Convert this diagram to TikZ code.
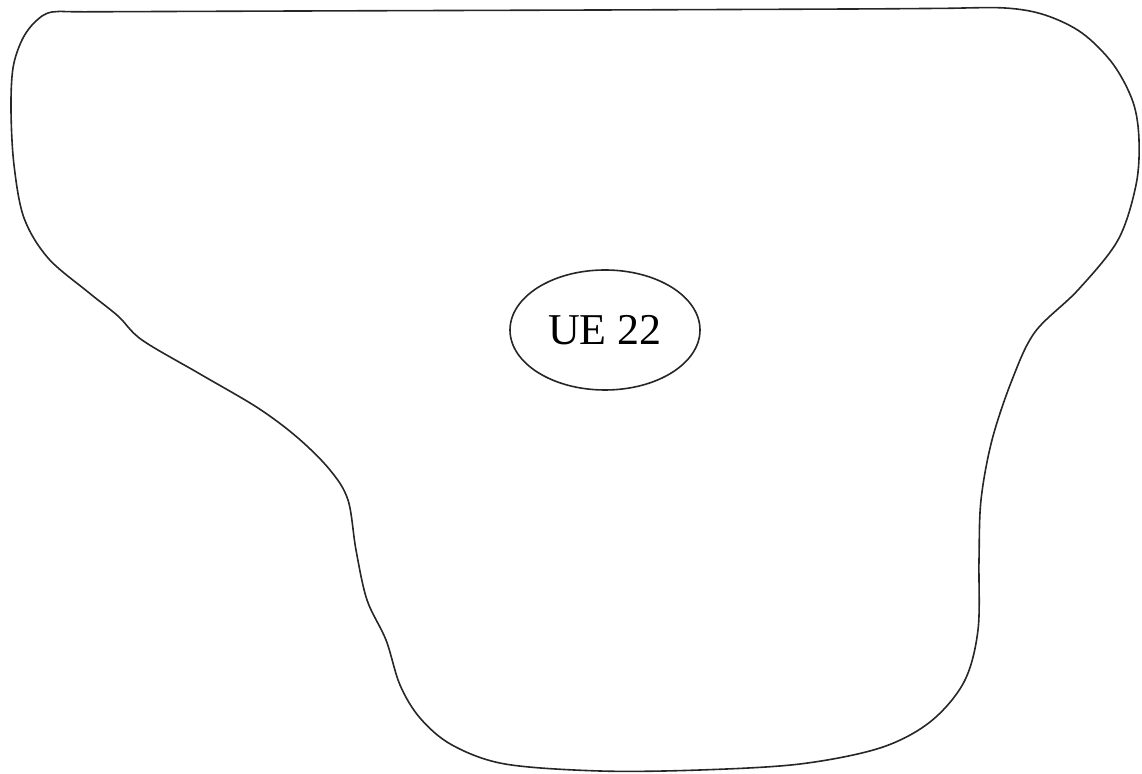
\documentclass[tikz,border=0pt]{standalone}
\usepackage{fontspec}
\setmainfont{Liberation Serif}
\usetikzlibrary{shapes.geometric}

\begin{document}
\begin{tikzpicture}[
  x=0.5pt, y=-0.5pt,
  outline/.style={draw=black!85, line width=0.8pt},
  uebox/.style={
    ellipse, draw=black!85, line width=0.8pt,
    minimum width=95pt, minimum height=60pt, inner sep=0pt,
    font=\fontsize{22}{26}\selectfont
  }
]
\useasboundingbox (0,0) rectangle (1142,774);

% coverage area
\draw[outline] plot[smooth cycle, tension=0.55] coordinates {
  (52,12) (90,11.8) (300,11) (600,10) (850,9) (940,8.4) (1005,8) (1045,15)
  (1082,33) (1113,64) (1133,102)
  (1139,140) (1136,185) (1118,240) (1078,290) (1035,332) (1012,380)
  (992,440) (981,500) (979,560) (978,630) (964,682) (930,722)
  (880,748) (800,764) (700,770) (600,771) (505,764) (452,745)
  (420,718) (400,685) (386,640) (367,600) (356,550) (348,500)
  (330,470) (298,438) (258,408) (200,374) (142,340) (118,316)
  (88,292) (48,258) (24,218) (14,165) (11,110) (13,68) (22,40) (35,22)
};

\node[uebox] (ue) at (605,330) {UE 22};
\end{tikzpicture}
\end{document}
